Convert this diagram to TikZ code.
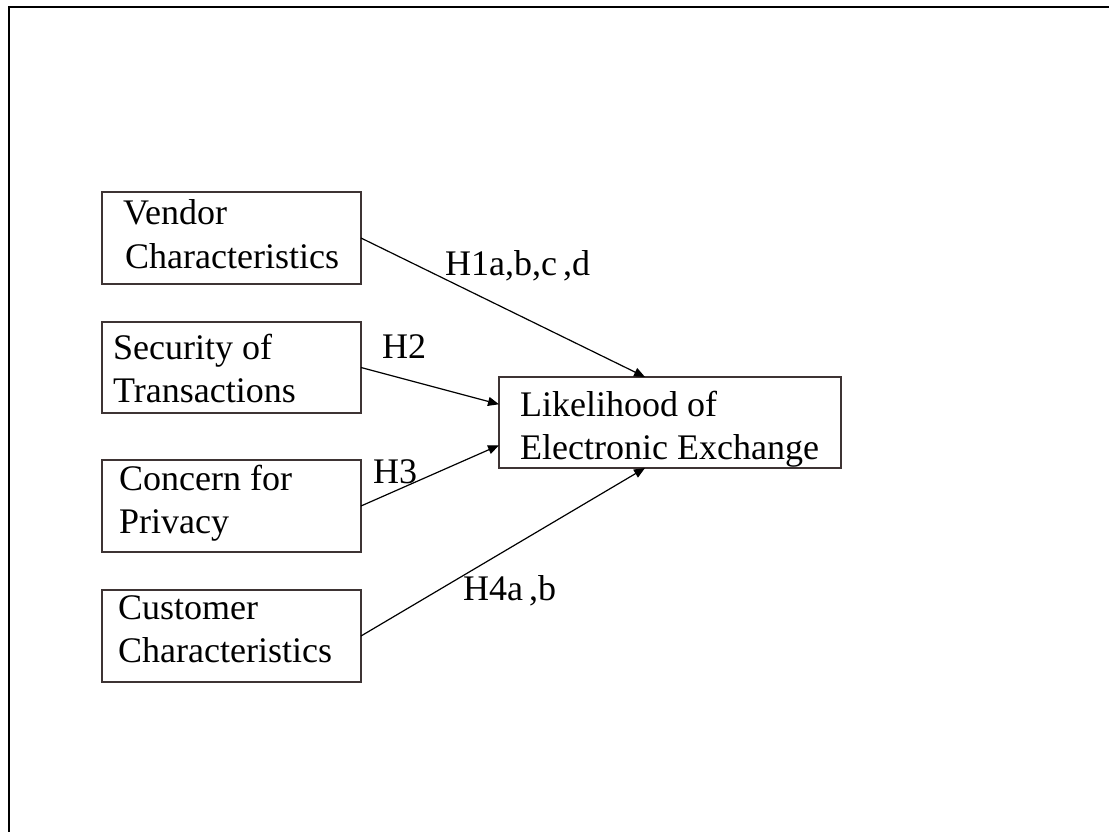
\documentclass[tikz,border=0pt]{standalone}
\usepackage{fontspec}
\setmainfont{Liberation Serif}
\usetikzlibrary{calc,arrows.meta}
\definecolor{boxline}{RGB}{62,52,52}
\begin{document}
\begin{tikzpicture}[x=1pt,y=-1pt,
  box/.style={draw=boxline, line width=1.4pt, inner sep=0pt, outer sep=0pt, anchor=north west},
  txt/.style={anchor=base west, inner sep=0pt, font=\fontsize{36}{43}\selectfont},
  lbl/.style={anchor=base west, inner sep=0pt, font=\fontsize{36}{43}\selectfont},
  arr/.style={line width=1.2pt, -{Triangle[length=11pt,width=9pt]}},
  frame/.style={line width=2pt}]
\useasboundingbox (0,0) rectangle (1109,832);
% frame (top and left only)
\coordinate (fr) at (1115,7);
\coordinate (fc) at (9,7);
\coordinate (fb) at (9,840);
\draw[frame] (fr) -- (fc) -- (fb);
% boxes
\node[box, minimum width=259pt, minimum height=92pt] (v) at (102,192) {};
\node[box, minimum width=259pt, minimum height=91pt] (s) at (102,322) {};
\node[box, minimum width=259pt, minimum height=92pt] (p) at (102,460) {};
\node[box, minimum width=259pt, minimum height=92pt] (c) at (102,590) {};
\node[box, minimum width=342pt, minimum height=91pt] (l) at (499,377) {};
% box texts
\node[txt] (v1) at (123,225) {Vendor};
\node[txt] (v2) at (125,268) {Characteristics};
\node[txt] (s1) at (113,359) {Security of};
\node[txt] (s2) at (113,402) {Transactions};
\node[txt] (p1) at (119,490) {Concern for};
\node[txt] (p2) at (119,533) {Privacy};
\node[txt] (c1) at (118,619) {Customer};
\node[txt] (c2) at (118,662) {Characteristics};
\node[txt] (l1) at (520,416) {Likelihood of};
\node[txt] (l2) at (520,459) {Electronic Exchange};
% connectors
\draw[arr] (v.east) -- ($(l.north west)!0.427!(l.north east)$);
\draw[arr] (s.east) -- ($(l.north west)!0.30!(l.south west)$);
\draw[arr] (p.east) -- ($(l.north west)!0.75!(l.south west)$);
\draw[arr] (c.east) -- ($(l.south west)!0.427!(l.south east)$);
% labels
\node[lbl] (h1) at (445,275) {H1a,b,c\,,d};
\node[lbl] (h2) at (382,358) {H2};
\node[lbl] (h3) at (373,483) {H3};
\node[lbl] (h4) at (463,600) {H4a\,,b};
\end{tikzpicture}
\end{document}
